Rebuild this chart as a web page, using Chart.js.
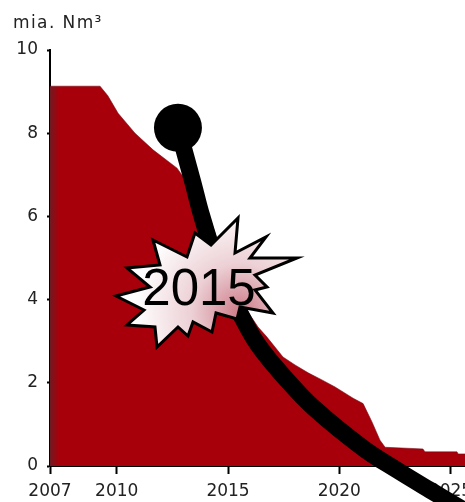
<!DOCTYPE html>
<html>
<head>
<meta charset="utf-8">
<style>
  html, body { margin: 0; padding: 0; background: #fff; overflow: hidden; }
  #wrap { position: relative; width: 465px; height: 502px; overflow: hidden; }
</style>
<script src="https://cdn.jsdelivr.net/npm/chart.js@4/dist/chart.umd.min.js"></script>
</head>
<body>
<!-- canvas is wider than the page: the 2025 label runs off the right edge -->
<div id="wrap"><canvas id="chart" width="489" height="502"></canvas></div>
<script>
// Remaining gas reserves
const years = [2007, 2009.25, 2009.6, 2010.06, 2010.82, 2011.63, 2012.71, 2014.06, 2014.42, 2014.87, 2015.36,
               2015.99, 2016.35, 2016.75, 2017.11, 2017.47, 2018.01, 2018.6, 2019.22, 2019.81, 2020.62, 2021.07,
               2021.47, 2021.83, 2022.06, 2023.76, 2023.85, 2025.29, 2025.34, 2025.65];
const reserves = [9.13, 9.13, 8.9, 8.48, 8.0, 7.6, 7.16, 6.15, 5.6, 4.83, 4.23,
                  3.63, 3.34, 3.1, 2.86, 2.62, 2.43, 2.24, 2.07, 1.9, 1.63, 1.5,
                  1.06, 0.62, 0.45, 0.41, 0.34, 0.34, 0.29, 0.29];

// The thick black curve with the dot on its start
const curveYears = [2012.75, 2013.02, 2013.43, 2013.83, 2014.64, 2015.58, 2016.35, 2017.56, 2018.87, 2021.07, 2022.6, 2024.08, 2025.88];
const curveValues = [8.13, 7.6, 6.8, 5.99, 4.66, 3.63, 2.91, 2.12, 1.39, 0.43, -0.1, -0.58, -1.15];

const xTicks = [2007, 2010, 2015, 2020, 2025];
const yTicks = [0, 2, 4, 6, 8, 10];
const unitLabel = 'mia. Nm³';
const burstLabel = '2015';

// Outline of the burst, in page pixels
const burst = [[238,218],[235,253],[266,237],[250,258],[297,258],[255,275],[267,287],[255,290],[273,313],[240,307],
               [237,319],[216,313],[212,332],[193,322],[188,336],[178,327],[157,347],[155,327],[127,325],[144,310],
               [116,296],[150,287],[127,268],[160,265],[153,240],[187,257],[195,233],[211,245]];

const tickFont = { family: 'DejaVu Sans', size: 17 };

const annotations = {
    id: 'annotations',
    afterDatasetsDraw(chart) {
        const ctx = chart.ctx;
        ctx.save();

        ctx.font = '17px "DejaVu Sans"';
        ctx.letterSpacing = '1.4px';
        ctx.fillStyle = '#222';
        ctx.textAlign = 'left';
        ctx.textBaseline = 'alphabetic';
        ctx.fillText(unitLabel, 13, 28);
        ctx.letterSpacing = '0px';

        const grad = ctx.createRadialGradient(240, 312, 2, 240, 312, 105);
        grad.addColorStop(0, '#cf7f8c');
        grad.addColorStop(0.45, '#ecd0d5');
        grad.addColorStop(1, '#ffffff');
        ctx.beginPath();
        burst.forEach((p, i) => i ? ctx.lineTo(p[0], p[1]) : ctx.moveTo(p[0], p[1]));
        ctx.closePath();
        ctx.fillStyle = grad;
        ctx.fill();
        ctx.lineWidth = 3;
        ctx.lineJoin = 'miter';
        ctx.strokeStyle = '#000';
        ctx.stroke();

        ctx.font = '51px "Liberation Sans"';
        ctx.fillStyle = '#000';
        ctx.textAlign = 'center';
        ctx.fillText(burstLabel, 199, 305);
        ctx.restore();
    }
};

new Chart(document.getElementById('chart'), {
    type: 'line',
    data: {
        datasets: [
            {
                data: years.map((x, i) => ({ x, y: reserves[i] })),
                order: 2,
                fill: 'origin',
                borderColor: 'rgba(110,10,20,0.55)',
                borderWidth: 1,
                pointRadius: 0,
                backgroundColor: ctx => {
                    const area = ctx.chart.chartArea;
                    if (!area) return '#a8000a';
                    const g = ctx.chart.ctx.createLinearGradient(area.left, 0, area.left + 9, 0);
                    g.addColorStop(0, '#6f1a22');
                    g.addColorStop(1, '#a8000a');
                    return g;
                }
            },
            {
                data: curveYears.map((x, i) => ({ x, y: curveValues[i] })),
                order: 1,
                clip: false,
                borderColor: '#000',
                borderWidth: 17,
                borderCapStyle: 'butt',
                tension: 0.4,
                pointRadius: curveYears.map((x, i) => i === 0 ? 24 : 0),
                pointBackgroundColor: '#000',
                pointBorderWidth: 0
            }
        ]
    },
    options: {
        responsive: false,
        animation: false,
        layout: { padding: { top: 50, right: 0, left: 0, bottom: 0 } },
        plugins: { legend: { display: false }, title: { display: false }, tooltip: { enabled: false } },
        scales: {
            x: {
                type: 'linear',
                min: 2007,
                max: 2025.65,
                afterBuildTicks: s => { s.ticks = xTicks.map(value => ({ value })); },
                afterFit: s => { s.height = 36; },
                grid: { drawOnChartArea: false, color: '#000', tickLength: 8, tickWidth: 2 },
                border: { color: '#000', width: 2 },
                ticks: {
                    font: tickFont,
                    color: '#222',
                    padding: 7,
                    maxRotation: 0,
                    autoSkip: false,
                    callback: v => String(v)
                }
            },
            y: {
                min: 0,
                max: 10,
                afterBuildTicks: s => { s.ticks = yTicks.map(value => ({ value })); },
                afterFit: s => { s.width = 50; },
                grid: { drawOnChartArea: false, color: '#000', tickLength: 3, tickWidth: 2 },
                border: { color: '#000', width: 2 },
                ticks: { font: tickFont, color: '#222', padding: 9 }
            }
        }
    },
    plugins: [annotations]
});
</script>
</body>
</html>
